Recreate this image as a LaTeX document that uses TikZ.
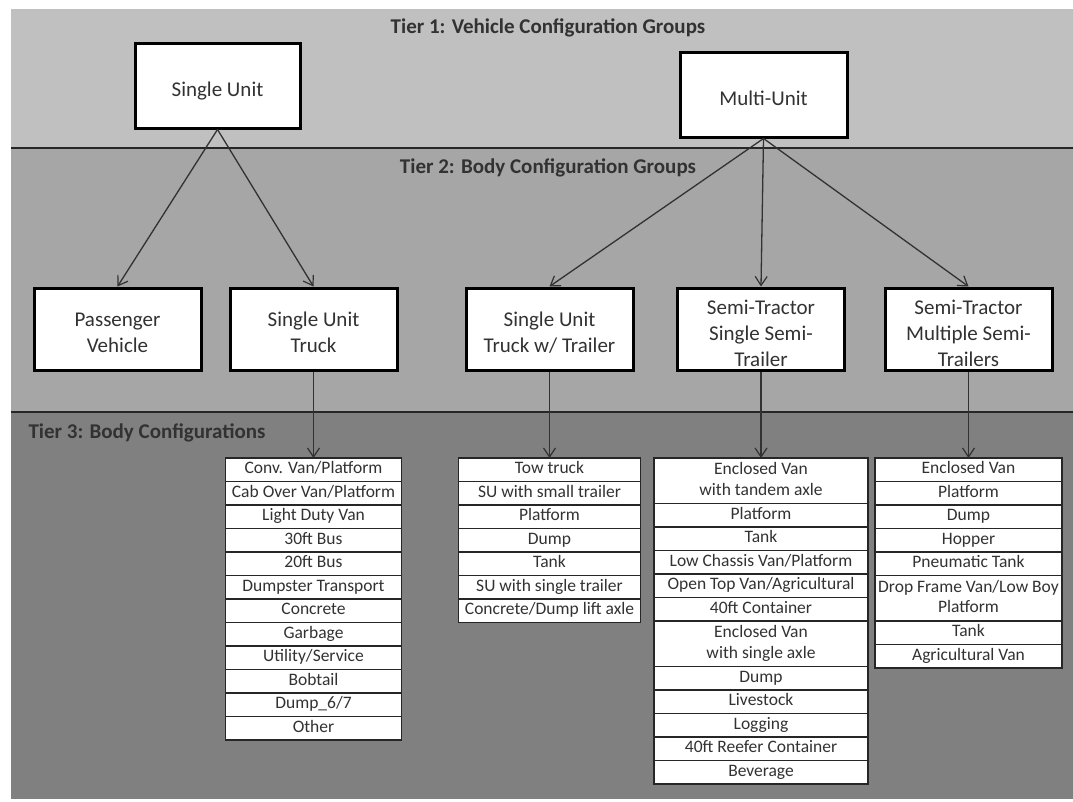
\documentclass[tikz,border=0pt]{standalone}
\usepackage{fontspec}
\setmainfont{Carlito}
\usetikzlibrary{positioning,arrows.meta}
\definecolor{vclight}{RGB}{192,192,192}
\definecolor{vcmid}{RGB}{166,166,166}
\definecolor{vcdark}{RGB}{128,128,128}
\definecolor{vcink}{RGB}{50,50,50}
\newcommand\boxtop{\rule{0pt}{29pt}}

\begin{document}
\begin{tikzpicture}[x=1pt,y=-1pt,
  group/.style={draw=black,line width=3pt,fill=white,align=center,text=vcink,
    inner sep=0pt,font=\fontsize{21}{26}\selectfont},
  bodygroup/.style={group,minimum width=167pt,minimum height=82pt},
  entry/.style={draw=black!85,line width=1.2pt,fill=white,align=center,text=vcink,
    inner sep=0pt,outer sep=0pt,font=\fontsize{17.5}{20.5}\selectfont},
  tier/.style={text=vcink,font=\fontsize{21}{25}\selectfont\bfseries},
  link/.style={draw=vcink,line width=1.3pt,
    -{Straight Barb[length=9pt,width=12pt,line width=1.2pt]}}]
  \useasboundingbox (0,0) rectangle (1073,801);
  \fill[vclight] (11,9) rectangle (1073,148);
  \fill[vcmid] (11,148) rectangle (1073,412);
  \fill[vcdark] (11,412) rectangle (1073,799);
  \draw[black!85,line width=1.5pt] (11,148) -- (1073,148);
  \draw[black!85,line width=1.5pt] (11,412) -- (1073,412);

  \node[tier] (t1) at (548,28) {Tier 1: Vehicle Configuration Groups};
  \node[tier] (t2) at (548,168) {Tier 2: Body Configuration Groups};
  \node[tier,anchor=west] (t3) at (25,433) {Tier 3: Body Configurations};

  \node[group,minimum width=165pt,minimum height=85pt] (su) at (217.5,85.5) {\boxtop Single Unit\strut};
  \node[group,minimum width=167pt,minimum height=85pt] (mu) at (763.5,94.5) {\boxtop Multi-Unit\strut};

  \node[bodygroup] (pv) at (117.5,329) {\boxtop Passenger\\Vehicle\strut};
  \node[bodygroup] (sut) at (313.5,329) {\boxtop Single Unit\\Truck\strut};
  \node[bodygroup] (sutt) at (549.5,329) {\boxtop Single Unit\\Truck w/ Trailer\strut};
  \node[bodygroup] (sst) at (761,329) {\rule{0pt}{24pt}Semi-Tractor\\Single Semi-\\Trailer};
  \node[bodygroup] (smt) at (968.5,329) {\rule{0pt}{24pt}Semi-Tractor\\Multiple Semi-\\Trailers};

  \coordinate (sutl0) at (sut.south |- 0,458);
  \foreach \h/\lbl [count=\i] in {1/{Conv. Van/Platform},1/{Cab Over Van/Platform},
      1/Light Duty Van,1/30ft Bus,1/20ft Bus,1/Dumpster Transport,1/Concrete,
      1/Garbage,1/{Utility/Service},1/Bobtail,1/{Dump\_6/7},1/Other}{
    \pgfmathtruncatemacro\j{\i-1}
    \node[entry,minimum width=176pt,minimum height=\h*22pt+1.5pt,
      below=0pt of sutl\j] (sutl\i) {\strut\lbl\strut};
  }

  \coordinate (suttl0) at (sutt.south |- 0,458);
  \foreach \h/\lbl [count=\i] in {1/Tow truck,1/SU with small trailer,1/Platform,
      1/Dump,1/Tank,1/SU with single trailer,1/{Concrete/Dump lift axle}}{
    \pgfmathtruncatemacro\j{\i-1}
    \node[entry,minimum width=182pt,minimum height=\h*22pt+1.5pt,
      below=0pt of suttl\j] (suttl\i) {\strut\lbl\strut};
  }

  \coordinate (sstl0) at (sst.south |- 0,458);
  \foreach \h/\lbl [count=\i] in {2/{Enclosed Van\\with tandem axle},1/Platform,1/Tank,
      1/{Low Chassis Van/Platform},1/{Open Top Van/Agricultural},1/40ft Container,
      2/{Enclosed Van\\with single axle},1/Dump,1/Livestock,1/Logging,
      1/40ft Reefer Container,1/Beverage}{
    \pgfmathtruncatemacro\j{\i-1}
    \node[entry,minimum width=214pt,minimum height=\h*22pt+1.5pt,
      below=0pt of sstl\j] (sstl\i) {\strut\lbl\strut};
  }

  \coordinate (smtl0) at (smt.south |- 0,458);
  \foreach \h/\lbl [count=\i] in {1/Enclosed Van,1/Platform,1/Dump,1/Hopper,
      1/Pneumatic Tank,2/{Drop Frame Van/Low Boy\\Platform},1/Tank,1/Agricultural Van}{
    \pgfmathtruncatemacro\j{\i-1}
    \node[entry,minimum width=187pt,minimum height=\h*22pt+1.5pt,
      below=0pt of smtl\j] (smtl\i) {\strut\lbl\strut};
  }

  \draw[link] (su.south) -- (pv.north);
  \draw[link] (su.south) -- (sut.north);
  \draw[link] (mu.south) -- (sutt.north);
  \draw[link] (mu.south) -- (sst.north);
  \draw[link] (mu.south) -- (smt.north);
  \draw[link] (sut.south) -- (sutl1.north);
  \draw[link] (sutt.south) -- (suttl1.north);
  \draw[link] (sst.south) -- (sstl1.north);
  \draw[link] (smt.south) -- (smtl1.north);
\end{tikzpicture}
\end{document}
